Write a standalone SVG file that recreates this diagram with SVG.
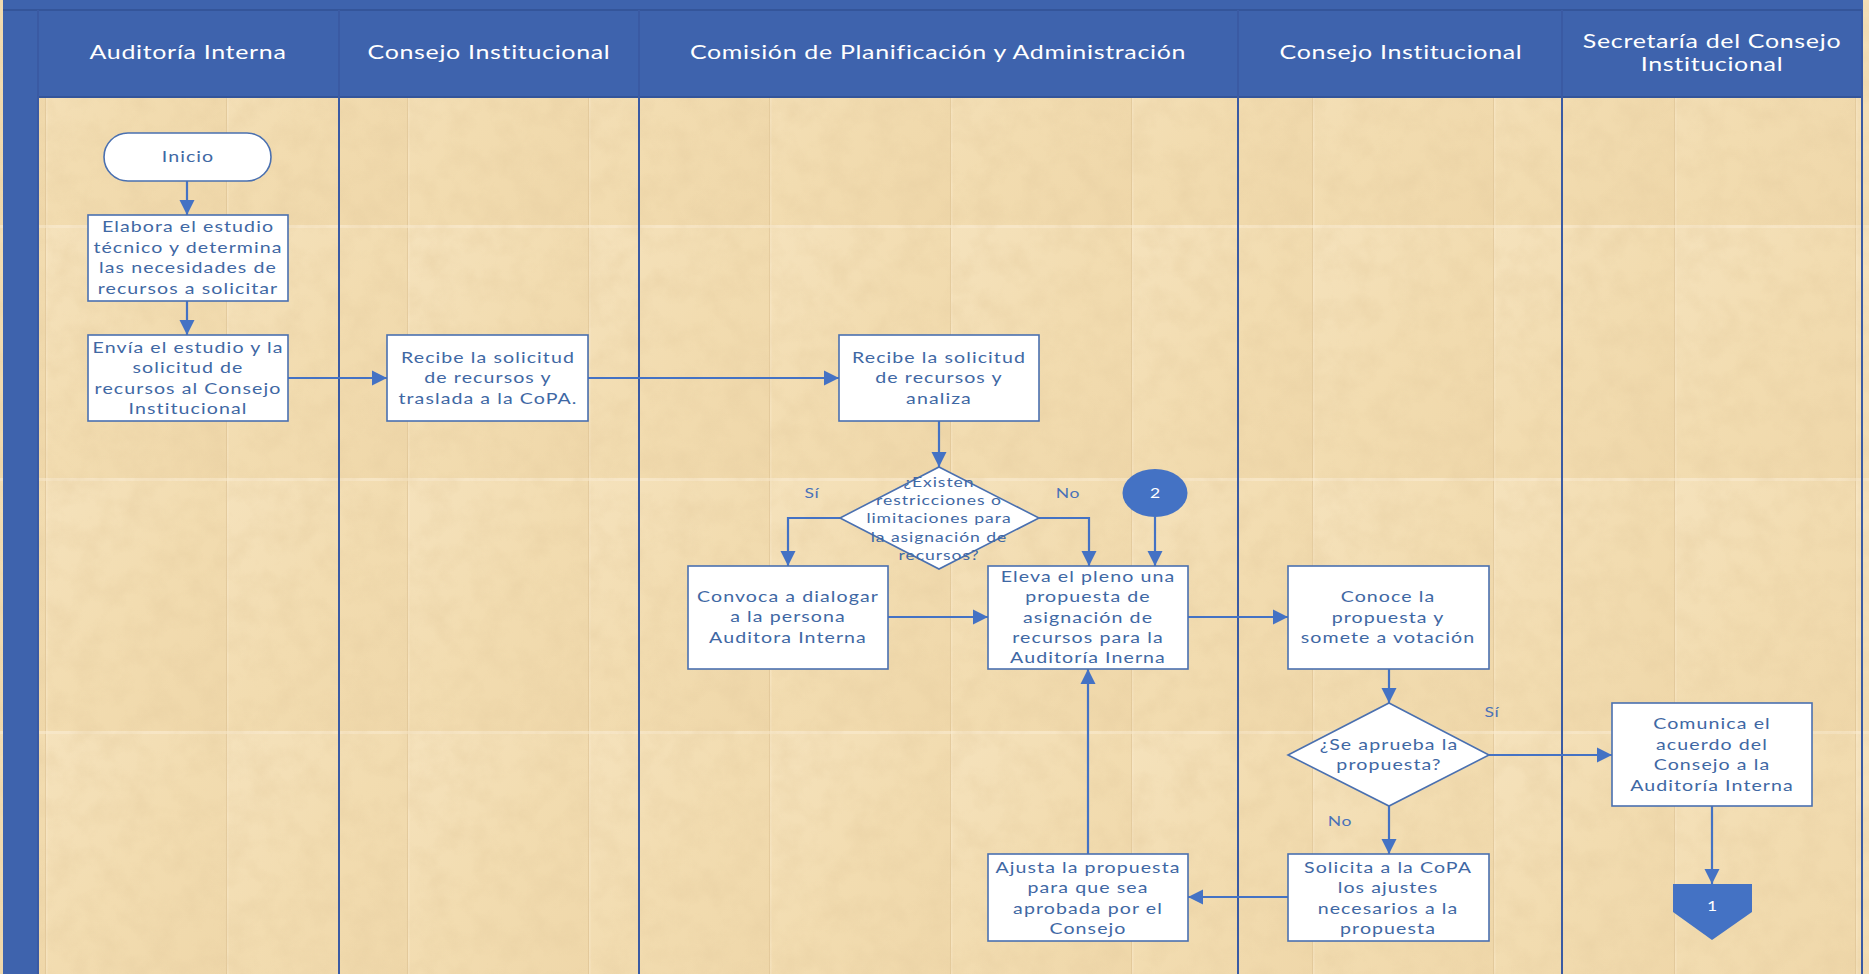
<svg xmlns="http://www.w3.org/2000/svg" width="1869" height="974" viewBox="0 0 1869 974">
<style>
.lane{stroke:#3A5AA3;stroke-width:2;fill:none}
.hdr{font-family:Lato,"Open Sans",sans-serif;font-size:18.5px;fill:#FFFFFF;text-anchor:middle;letter-spacing:0.5px}
.box{fill:#FFFFFF;stroke:#4A70B0;stroke-width:1.6}
.t{font-family:Lato,"Open Sans",sans-serif;font-size:14.5px;fill:#3F68A4;text-anchor:middle;letter-spacing:0.8px}
.ts{font-family:Lato,"Open Sans",sans-serif;font-size:13px;fill:#3F68A4;text-anchor:middle;letter-spacing:0.7px}
.lbl{font-family:Lato,"Open Sans",sans-serif;font-size:13px;fill:#4A72B8;text-anchor:middle;letter-spacing:0.5px}
.wt{font-family:Lato,"Open Sans",sans-serif;font-size:13px;fill:#FFFFFF;text-anchor:middle}
.c{stroke:#4472C4;stroke-width:2.2;fill:none;marker-end:url(#ah)}
</style>
<defs>
<marker id="ah" viewBox="0 0 10 10" refX="10" refY="5" markerWidth="7" markerHeight="7" orient="auto" markerUnits="strokeWidth">
<path d="M0,0 L10,5 L0,10 z" fill="#4472C4"/>
</marker>
<linearGradient id="tileg" x1="0" y1="0" x2="1" y2="1">
<stop offset="0" stop-color="#F5E2BC"/>
<stop offset="0.5" stop-color="#F2DCB0"/>
<stop offset="1" stop-color="#EFD7A9"/>
</linearGradient>
<pattern id="tex" patternUnits="userSpaceOnUse" x="45" y="-28" width="181" height="253">
<rect width="181" height="253" fill="url(#tileg)"/>
<line x1="0.5" y1="0" x2="0.5" y2="253" stroke="#D9BD8C" stroke-width="1" opacity="0.6"/>
<line x1="1.8" y1="0" x2="1.8" y2="253" stroke="#FAEBCF" stroke-width="1.2" opacity="0.5"/>
<line x1="0" y1="1.5" x2="181" y2="1.5" stroke="#FAEBD2" stroke-width="3" opacity="0.55"/>
</pattern>
<filter id="noise" x="0" y="0" width="1869" height="974" filterUnits="userSpaceOnUse">
<feTurbulence type="fractalNoise" baseFrequency="0.04" numOctaves="4" seed="7" result="n"/>
<feColorMatrix in="n" type="matrix" values="0 0 0 0 0.80  0 0 0 0 0.62  0 0 0 0 0.36  1.5 0 0 0 -0.55"/>
</filter>
</defs>
<g id="texture">
<rect x="0" y="0" width="1869" height="974" fill="url(#tex)"/>
<rect x="0" y="0" width="1869" height="974" filter="url(#noise)" opacity="0.55"/>
</g>
<g id="background">
<rect x="3" y="0" width="35" height="974" fill="#3E63AD"/>
<rect x="3" y="0" width="1860" height="97" fill="#3E63AD"/>
<line x1="3" y1="10" x2="1862" y2="10" stroke="#34559A" stroke-width="2"/>
<line x1="38" y1="97" x2="1862" y2="97" stroke="#34559A" stroke-width="2"/>
<line class="lane" x1="38" y1="10" x2="38" y2="974"/>
<line class="lane" x1="339" y1="10" x2="339" y2="974"/>
<line class="lane" x1="639" y1="10" x2="639" y2="974"/>
<line class="lane" x1="1238" y1="10" x2="1238" y2="974"/>
<line class="lane" x1="1562" y1="10" x2="1562" y2="974"/>
<line class="lane" x1="1862" y1="10" x2="1862" y2="974"/>
</g>
<g id="headers">
<g transform="matrix(1.35 0 0 1 188 0)"><text class="hdr" x="0" y="59">Auditoría Interna</text></g>
<g transform="matrix(1.35 0 0 1 489 0)"><text class="hdr" x="0" y="59">Consejo Institucional</text></g>
<g transform="matrix(1.35 0 0 1 938 0)"><text class="hdr" x="0" y="59">Comisión de Planificación y Administración</text></g>
<g transform="matrix(1.35 0 0 1 1401 0)"><text class="hdr" x="0" y="59">Consejo Institucional</text></g>
<g transform="matrix(1.35 0 0 1 1712 0)"><text class="hdr" x="0" y="48">Secretaría del Consejo</text><text class="hdr" x="0" y="71">Institucional</text></g>
</g>
<g id="connectors">
<path class="c" d="M187,181 L187,215"/>
<path class="c" d="M187,301 L187,335"/>
<path class="c" d="M288,378 L387,378"/>
<path class="c" d="M588,378 L839,378"/>
<path class="c" d="M939,421 L939,467"/>
<path class="c" d="M840,518 L788,518 L788,566"/>
<path class="c" d="M1039,518 L1089,518 L1089,566"/>
<path class="c" d="M1155,517 L1155,566"/>
<path class="c" d="M888,617 L988,617"/>
<path class="c" d="M1188,617 L1288,617"/>
<path class="c" d="M1389,669 L1389,703"/>
<path class="c" d="M1489,755 L1612,755"/>
<path class="c" d="M1389,806 L1389,854"/>
<path class="c" d="M1288,897 L1188,897"/>
<path class="c" d="M1088,854 L1088,669"/>
<path class="c" d="M1712,806 L1712,884"/>
<g transform="matrix(1.35 0 0 1 812 0)"><text class="lbl" x="0" y="498">Sí</text></g>
<g transform="matrix(1.35 0 0 1 1068 0)"><text class="lbl" x="0" y="498">No</text></g>
<g transform="matrix(1.35 0 0 1 1492 0)"><text class="lbl" x="0" y="717">Sí</text></g>
<g transform="matrix(1.35 0 0 1 1340 0)"><text class="lbl" x="0" y="826">No</text></g>
</g>
<g id="inicio">
<rect class="box" x="104" y="133" width="167" height="48" rx="24" ry="24"/>
<g transform="matrix(1.35 0 0 1 188 0)"><text class="t" x="0" y="162">Inicio</text></g>
</g>
<g id="elabora">
<rect class="box" x="88" y="215" width="200" height="86"/>
<g transform="matrix(1.35 0 0 1 188 0)">
<text class="t" x="0" y="232">Elabora el estudio</text>
<text class="t" x="0" y="253">técnico y determina</text>
<text class="t" x="0" y="273">las necesidades de</text>
<text class="t" x="0" y="294">recursos a solicitar</text>
</g>
</g>
<g id="envia">
<rect class="box" x="88" y="335" width="200" height="86"/>
<g transform="matrix(1.35 0 0 1 188 0)">
<text class="t" x="0" y="353">Envía el estudio y la</text>
<text class="t" x="0" y="373">solicitud de</text>
<text class="t" x="0" y="394">recursos al Consejo</text>
<text class="t" x="0" y="414">Institucional</text>
</g>
</g>
<g id="recibe-consejo">
<rect class="box" x="387" y="335" width="201" height="86"/>
<g transform="matrix(1.35 0 0 1 488 0)">
<text class="t" x="0" y="363">Recibe la solicitud</text>
<text class="t" x="0" y="383">de recursos y</text>
<text class="t" x="0" y="404">traslada a la CoPA.</text>
</g>
</g>
<g id="recibe-copa">
<rect class="box" x="839" y="335" width="200" height="86"/>
<g transform="matrix(1.35 0 0 1 939 0)">
<text class="t" x="0" y="363">Recibe la solicitud</text>
<text class="t" x="0" y="383">de recursos y</text>
<text class="t" x="0" y="404">analiza</text>
</g>
</g>
<g id="decision-restricciones">
<polygon class="box" points="939,467 1039,518 939,569 840,518"/>
<g transform="matrix(1.35 0 0 1 939 0)">
<text class="ts" x="0" y="487">¿Existen</text>
<text class="ts" x="0" y="505">restricciones o</text>
<text class="ts" x="0" y="523">limitaciones para</text>
<text class="ts" x="0" y="542">la asignación de</text>
<text class="ts" x="0" y="560">recursos?</text>
</g>
</g>
<g id="conector-2">
<ellipse cx="1155" cy="493" rx="32.5" ry="24" fill="#4472C4"/>
<g transform="matrix(1.35 0 0 1 1155 0)"><text class="wt" x="0" y="498">2</text></g>
</g>
<g id="convoca">
<rect class="box" x="688" y="566" width="200" height="103"/>
<g transform="matrix(1.35 0 0 1 788 0)">
<text class="t" x="0" y="602">Convoca a dialogar</text>
<text class="t" x="0" y="622">a la persona</text>
<text class="t" x="0" y="643">Auditora Interna</text>
</g>
</g>
<g id="eleva">
<rect class="box" x="988" y="566" width="200" height="103"/>
<g transform="matrix(1.35 0 0 1 1088 0)">
<text class="t" x="0" y="582">Eleva el pleno una</text>
<text class="t" x="0" y="602">propuesta de</text>
<text class="t" x="0" y="623">asignación de</text>
<text class="t" x="0" y="643">recursos para la</text>
<text class="t" x="0" y="663">Auditoría Inerna</text>
</g>
</g>
<g id="conoce">
<rect class="box" x="1288" y="566" width="201" height="103"/>
<g transform="matrix(1.35 0 0 1 1388 0)">
<text class="t" x="0" y="602">Conoce la</text>
<text class="t" x="0" y="623">propuesta y</text>
<text class="t" x="0" y="643">somete a votación</text>
</g>
</g>
<g id="decision-aprueba">
<polygon class="box" points="1389,703 1489,755 1389,806 1288,755"/>
<g transform="matrix(1.35 0 0 1 1389 0)">
<text class="t" x="0" y="750">¿Se aprueba la</text>
<text class="t" x="0" y="770">propuesta?</text>
</g>
</g>
<g id="comunica">
<rect class="box" x="1612" y="703" width="200" height="103"/>
<g transform="matrix(1.35 0 0 1 1712 0)">
<text class="t" x="0" y="729">Comunica el</text>
<text class="t" x="0" y="750">acuerdo del</text>
<text class="t" x="0" y="770">Consejo a la</text>
<text class="t" x="0" y="791">Auditoría Interna</text>
</g>
</g>
<g id="solicita">
<rect class="box" x="1288" y="854" width="201" height="87"/>
<g transform="matrix(1.35 0 0 1 1388 0)">
<text class="t" x="0" y="873">Solicita a la CoPA</text>
<text class="t" x="0" y="893">los ajustes</text>
<text class="t" x="0" y="914">necesarios a la</text>
<text class="t" x="0" y="934">propuesta</text>
</g>
</g>
<g id="ajusta">
<rect class="box" x="988" y="854" width="200" height="87"/>
<g transform="matrix(1.35 0 0 1 1088 0)">
<text class="t" x="0" y="873">Ajusta la propuesta</text>
<text class="t" x="0" y="893">para que sea</text>
<text class="t" x="0" y="914">aprobada por el</text>
<text class="t" x="0" y="934">Consejo</text>
</g>
</g>
<g id="conector-1">
<polygon points="1673,884 1752,884 1752,912 1712,940 1673,912" fill="#4472C4"/>
<g transform="matrix(1.35 0 0 1 1712 0)"><text class="wt" x="0" y="911">1</text></g>
</g>
</svg>
